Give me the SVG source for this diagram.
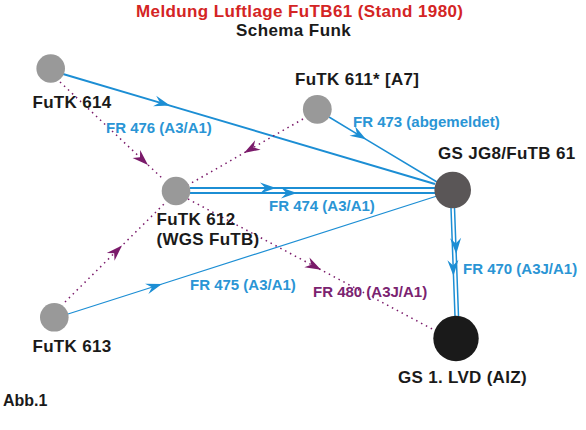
<svg xmlns="http://www.w3.org/2000/svg" width="586" height="430" viewBox="0 0 586 430">
<style>
text{font-family:"Liberation Sans",Arial,sans-serif;font-weight:bold}
.t{font-size:17px;fill:#d42424}
.n{font-size:17px;fill:#1a1a1a;letter-spacing:0.3px}
.b{font-size:15px;fill:#2a95d5}
.p{font-size:15px;fill:#7b2370}
.cb{fill:none;stroke:#1c8ed4}
.cp{fill:none;stroke:#7a1a6a;stroke-width:1.5;stroke-dasharray:1.5 4}
.g{fill:#999999}
</style>
<defs>
<marker id="ab" viewBox="-17 -6 18 12" refX="0" refY="0" markerWidth="18" markerHeight="12" markerUnits="userSpaceOnUse" orient="auto">
<path d="M0,0 L-16,-5.5 L-10.5,0 L-16,5.5 Z" fill="#1c8ed4"/>
</marker>
<marker id="ap" viewBox="-17 -6 18 12" refX="0" refY="0" markerWidth="18" markerHeight="12" markerUnits="userSpaceOnUse" orient="auto">
<path d="M0,0 L-16,-5.5 L-11,0 L-16,5.5 Z" fill="#7a1a6a"/>
</marker>
</defs>
<g id="title">
<text class="t" x="136" y="17" textLength="327" lengthAdjust="spacing">Meldung Luftlage FuTB61 (Stand 1980)</text>
<text class="n" x="236" y="36" textLength="115" lengthAdjust="spacing">Schema Funk</text>
</g>
<g id="connectors">
<path class="cb" stroke-width="2" marker-mid="url(#ab)" d="M63,74 L170,105.6 L435,184"/>
<path class="cb" stroke-width="1.5" marker-mid="url(#ab)" d="M329,117 L366,139.3 L437,182"/>
<path class="cb" stroke-width="2" marker-mid="url(#ab)" d="M190,188 L276,188 L436,188"/>
<path class="cb" stroke-width="2" marker-mid="url(#ab)" d="M190,193 L297,193 L436,193"/>
<path class="cb" stroke-width="1.3" marker-mid="url(#ab)" d="M68,314 L162,284 L437,196"/>
<path class="cb" stroke-width="1.5" marker-mid="url(#ab)" d="M451,208 L453.5,276 L455,316"/>
<path class="cb" stroke-width="1.5" marker-mid="url(#ab)" d="M454.5,208 L456.2,254 L458.5,316"/>
<path class="cp" marker-mid="url(#ap)" d="M60,82 L148,164.9 L164,180"/>
<path class="cp" marker-mid="url(#ap)" d="M303,119 L244,152.9 L188,185"/>
<path class="cp" marker-mid="url(#ap)" d="M65,302 L122,245.6 L166,202"/>
<path class="cp" marker-mid="url(#ap)" d="M188,199 L321,269.8 L434,330"/>
</g>
<g id="futk614">
<circle class="g" cx="50.7" cy="68.5" r="14.3"/>
<text class="n" x="32.5" y="108">FuTK 614</text>
</g>
<g id="futk611">
<circle class="g" cx="317.3" cy="109.3" r="14.4"/>
<text class="n" x="295" y="85">FuTK 611* [A7]</text>
</g>
<g id="futk612">
<circle class="g" cx="176" cy="191" r="14.3"/>
<text class="n" x="156.5" y="225">FuTK 612</text>
<text class="n" x="156.5" y="245">(WGS FuTB)</text>
</g>
<g id="futk613">
<circle class="g" cx="54.3" cy="317.3" r="14.3"/>
<text class="n" x="32.5" y="352">FuTK 613</text>
</g>
<g id="gsjg8">
<circle cx="452.7" cy="190" r="18.3" fill="#5a5657"/>
<text class="n" x="438" y="159">GS JG8/FuTB 61</text>
</g>
<g id="gslvd">
<circle cx="456" cy="338.5" r="22.7" fill="#1a1a1a"/>
<text class="n" x="398" y="383">GS 1. LVD (AIZ)</text>
</g>
<g id="labels">
<text class="b" x="106" y="133">FR 476 (A3/A1)</text>
<text class="b" x="353" y="127">FR 473 (abgemeldet)</text>
<text class="b" x="269" y="211">FR 474 (A3/A1)</text>
<text class="b" x="190" y="290">FR 475 (A3/A1)</text>
<text class="p" x="313" y="297">FR 480 (A3J/A1)</text>
<text class="b" x="463" y="274">FR 470 (A3J/A1)</text>
<text class="n" x="3" y="406" style="font-size:16px;letter-spacing:0">Abb.1</text>
</g>
</svg>
